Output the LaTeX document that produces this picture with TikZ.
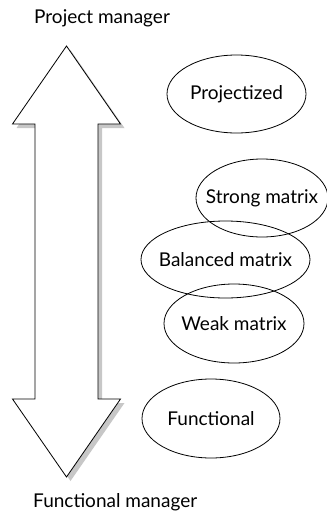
\documentclass[tikz,border=0pt]{standalone}
\usepackage{fontspec}
\setmainfont{Lato}
\usetikzlibrary{shapes.geometric,shadows}

\begin{document}
\begin{tikzpicture}[x=1pt,y=-1pt,
	org/.style={draw,ellipse,line width=0.8pt,inner sep=-15pt,font=\fontsize{19}{22}\selectfont},
	role/.style={anchor=west,inner sep=0pt,font=\fontsize{19}{22}\selectfont}]
	\useasboundingbox (0,0) rectangle (327,512);
	\draw[line width=0.8pt,fill=white,drop shadow={shadow xshift=4pt,shadow yshift=-4pt,fill=black!22,opacity=1}]
		(66.5,46) -- (120.5,124) -- (98,124) -- (98,399) -- (120.5,399) -- (66.5,477)
		-- (12.5,399) -- (35,399) -- (35,124) -- (12.5,124) -- cycle;
	\node[role] (pm) at (34,18) {Project manager};
	\node[role] (fm) at (33,502) {Functional manager};
	\node[org,minimum width=139pt,minimum height=78pt] (proj) at (236.5,94) {Projectized};
	\node[org,minimum width=132pt,minimum height=78pt] (strong) at (262,198) {Strong matrix};
	\node[org,minimum width=169pt,minimum height=77pt] (bal) at (225.5,259.5) {Balanced matrix};
	\node[org,minimum width=140pt,minimum height=79pt] (weak) at (234,323.5) {Weak matrix};
	\node[org,minimum width=138pt,minimum height=79pt] (func) at (211,418.5) {Functional};
\end{tikzpicture}
\end{document}
